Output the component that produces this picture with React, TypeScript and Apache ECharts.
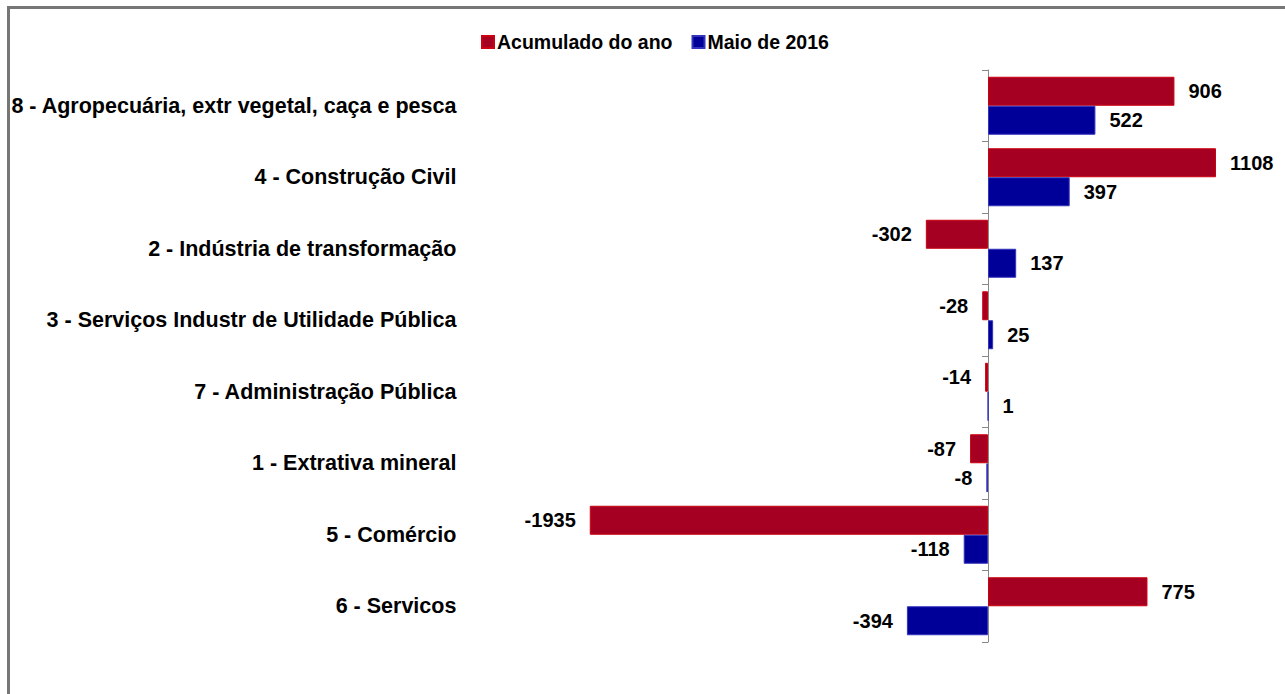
import React, { useEffect, useRef } from "react";
import * as echarts from "echarts";

const categories = [
  "8 - Agropecuária, extr vegetal, caça e pesca",
  "4 - Construção Civil",
  "2 - Indústria de transformação",
  "3 - Serviços Industr de Utilidade Pública",
  "7 - Administração Pública",
  "1 - Extrativa mineral",
  "5 - Comércio",
  "6 - Servicos",
];
const seriesNames = ["Acumulado do ano", "Maio de 2016"];
const acumulado = [906, 1108, -302, -28, -14, -87, -1935, 775];
const maio = [522, 397, 137, 25, 1, -8, -118, -394];

const FONT = "'Liberation Sans', Arial, sans-serif";

function withLabels(values: number[]) {
  return values.map((v) => ({
    value: v,
    label: { position: v < 0 ? "left" : "right" },
  }));
}

export default function App() {
  const ref = useRef<HTMLDivElement>(null);
  useEffect(() => {
    if (!ref.current) return;
    const chart = echarts.init(ref.current, null, { renderer: "svg" });
    const labelStyle = {
      show: true,
      distance: 14,
      color: "#000",
      fontFamily: FONT,
      fontWeight: "bold" as const,
      fontSize: 20,
    };
    chart.setOption({
      animation: false,
      backgroundColor: "#fff",
      textStyle: { fontFamily: FONT },
      graphic: [
        {
          type: "rect",
          shape: { x: 8.5, y: 7.5, width: 1300, height: 700 },
          style: { fill: "none", stroke: "#767676", lineWidth: 3 },
          silent: true,
        },
      ],
      legend: {
        top: 27,
        left: 476,
        itemWidth: 12,
        itemHeight: 12,
        itemGap: 19,
        icon: "rect",
        textStyle: {
          fontFamily: FONT,
          fontWeight: "bold",
          fontSize: 19.5,
          color: "#000",
          padding: [0, 0, 0, -2],
        },
        data: seriesNames,
      },
      grid: {
        left: 576.4,
        right: 8.9,
        top: 70,
        bottom: 52,
        containLabel: false,
        outerBoundsMode: "none",
      },
      xAxis: {
        type: "value",
        min: -2000,
        max: 1400,
        show: false,
      },
      yAxis: {
        type: "category",
        inverse: true,
        data: categories,
        axisLine: { show: true, onZero: true, lineStyle: { color: "#888", width: 1 } },
        axisTick: { show: true, length: 6, lineStyle: { color: "#888" } },
        axisLabel: {
          margin: 120,
          color: "#000",
          fontFamily: FONT,
          fontWeight: "bold",
          fontSize: 21.5,
        },
      },
      series: [
        {
          name: seriesNames[0],
          type: "bar",
          data: withLabels(acumulado),
          barWidth: 29,
          barGap: "0%",
          itemStyle: { color: "#A50021", borderColor: "#CC0010", borderWidth: 1 },
          label: labelStyle,
        },
        {
          name: seriesNames[1],
          type: "bar",
          data: withLabels(maio),
          barWidth: 29,
          barGap: "0%",
          itemStyle: { color: "#000099", borderColor: "#3333BB", borderWidth: 1 },
          label: labelStyle,
        },
      ],
    });
    return () => chart.dispose();
  }, []);
  return (
    <div
      ref={ref}
      style={{ position: "absolute", left: 0, top: 0, width: 1285, height: 694 }}
    />
  );
}
